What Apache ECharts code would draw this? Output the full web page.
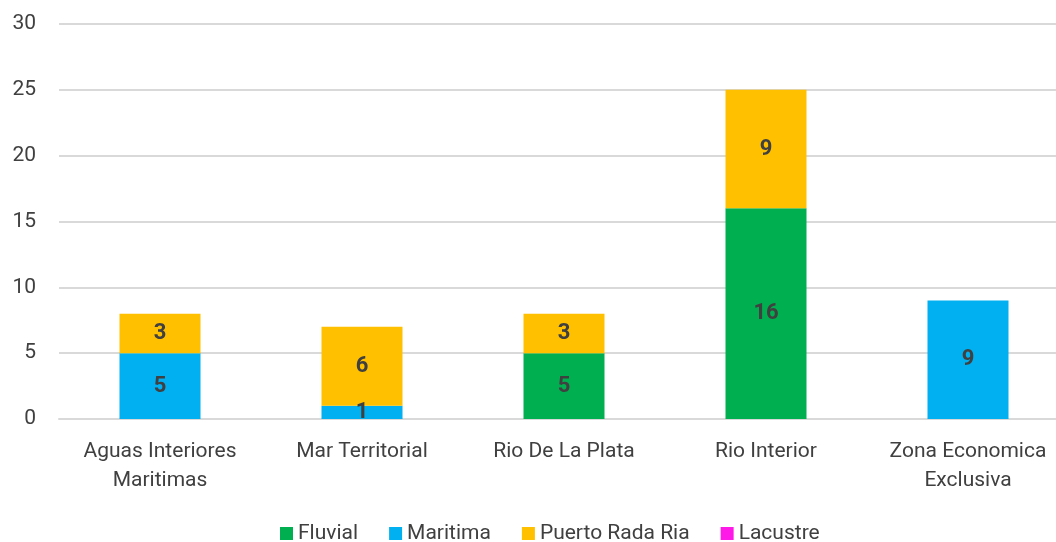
<!DOCTYPE html>
<html>
<head>
<meta charset="utf-8">
<script src="https://cdn.jsdelivr.net/npm/echarts@6/dist/echarts.min.js"></script>
<style>
html, body { margin: 0; padding: 0; background: #fff; overflow: hidden; width: 1056px; height: 542px; }
#chart { width: 1069px; height: 542px; }
</style>
</head>
<body>
<div id="chart"></div>
<script>
// categorias y valores
var categorias = ['Aguas Interiores\nMaritimas', 'Mar Territorial', 'Rio De La Plata', 'Rio Interior', 'Zona Economica\nExclusiva'];
var fluvial = [null, null, 5, 16, null];
var maritima = [5, 1, null, null, 9];
var puertoRadaRia = [3, 6, 3, 9, null];
var lacustre = [null, null, null, null, null];
var ticksY = [0, 5, 10, 15, 20, 25, 30];

var fuente = 'Roboto';
var etiqueta = {
	show: true,
	position: 'inside',
	fontFamily: fuente,
	fontSize: 22,
	fontWeight: 'bold',
	color: '#404040'
};

function serie(nombre, datos, color) {
	return {
		name: nombre,
		type: 'bar',
		stack: 'total',
		barWidth: 81,
		data: datos,
		itemStyle: { color: color },
		label: etiqueta
	};
}

var grafico = echarts.init(document.getElementById('chart'));
grafico.setOption({
	animation: false,
	textStyle: { fontFamily: fuente },
	// el area del grafico sigue un poco mas alla del borde derecho
	grid: { left: 59, right: 0, top: 24, bottom: 123 },
	legend: {
		bottom: -7,
		left: 275,
		itemWidth: 13,
		itemHeight: 13,
		itemGap: 31,
		icon: 'rect',
		textStyle: { fontSize: 21, color: '#404040', fontFamily: fuente },
		data: ['Fluvial', 'Maritima', 'Puerto Rada Ria', 'Lacustre']
	},
	xAxis: {
		type: 'category',
		data: categorias,
		axisLine: { lineStyle: { color: '#d9d9d9', width: 2 } },
		axisTick: { show: false },
		axisLabel: { interval: 0, fontSize: 21, color: '#404040', lineHeight: 29, margin: 18 }
	},
	yAxis: {
		type: 'value',
		min: ticksY[0],
		max: ticksY[ticksY.length - 1],
		interval: 5,
		splitLine: { lineStyle: { color: '#d9d9d9', width: 2 } },
		axisLabel: { fontSize: 21, color: '#404040', margin: 23 }
	},
	series: [
		serie('Fluvial', fluvial, '#00b050'),
		serie('Maritima', maritima, '#00b0f0'),
		serie('Puerto Rada Ria', puertoRadaRia, '#ffc000'),
		serie('Lacustre', lacustre, '#ff19e8')
	]
});
</script>
</body>
</html>
